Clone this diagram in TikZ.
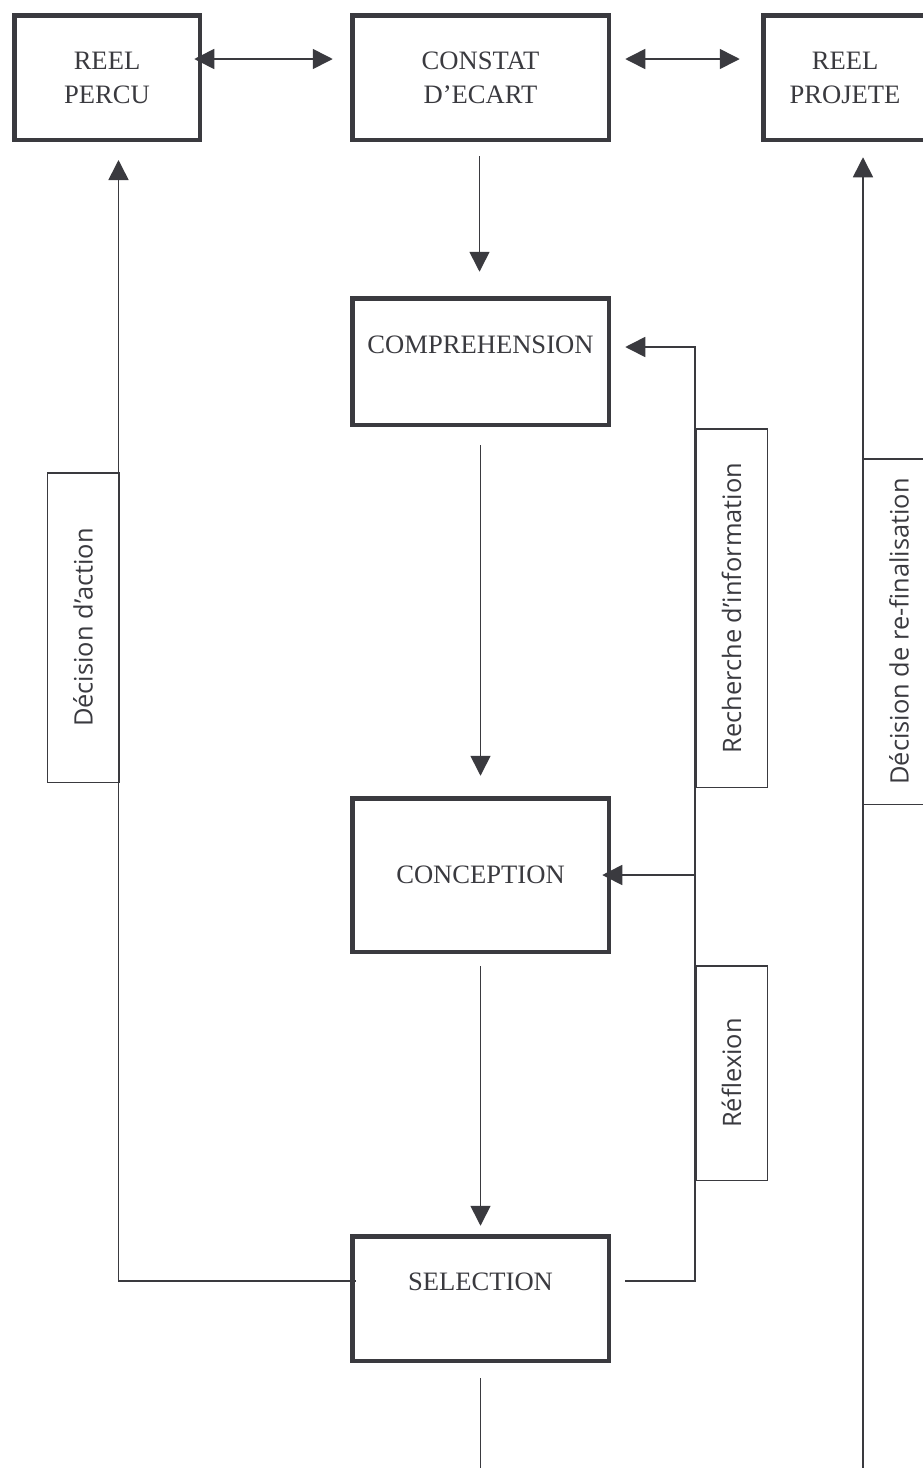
\documentclass[tikz,border=0pt]{standalone}
\usepackage{fontspec}
\setmainfont{Liberation Serif}
\newfontfamily\etiqfont{Open Sans}
\usetikzlibrary{arrows.meta}
\definecolor{trait}{RGB}{58,58,63}

\begin{document}
\begin{tikzpicture}[x=0.5pt, y=-0.5pt, >={Triangle[length=10pt,width=10pt]},
    etape/.style={draw=trait, line width=2.25pt, minimum width=128.25pt, minimum height=62.25pt, inner sep=0pt, align=center, text=trait, font=\fontsize{13.3}{17}\selectfont},
    etiquette/.style={draw=trait, line width=0.75pt, rotate=90, minimum height=35.75pt, inner sep=0pt, text=trait, font=\etiqfont\fontsize{12.7}{15}\selectfont},
    lien/.style={draw=trait, line width=0.8pt}]
    \useasboundingbox (0,0) rectangle (922,1468);
    % Ligne du haut
    \node[etape, minimum width=92.75pt] (percu) at (107,77.5) {REEL\\PERCU};
    \node[etape] (constat) at (480.5,77.5) {CONSTAT\\D’ECART};
    \node[etape, minimum width=81.75pt] (projete) at (845,77.5) {REEL\\PROJETE};
    \draw[lien, <->] ([shift={(-7.75,-18.5)}]percu.east) -- ([shift={(-17.25,-18.5)}]constat.west);
    \draw[lien, <->] ([shift={(14.25,-18.5)}]constat.east) -- ([shift={(-21.25,-18.5)}]projete.west);
    % Colonne centrale
    \node[etape, minimum height=63.25pt] (comp) at (480.5,361.5) {COMPREHENSION\\~};
    \node[etape, minimum height=76.75pt] (conc) at (480.5,875) {CONCEPTION};
    \node[etape] (sel) at (480.5,1298.5) {SELECTION\\~};
    \coordinate (finSel) at (480.5,1468);
    \draw[lien, ->] ([shift={(-1,14)}]constat.south) -- ([shift={(-1,-24.25)}]comp.north);
    \draw[lien, ->] ([shift={(0,18.25)}]comp.south) -- ([shift={(0,-20.25)}]conc.north);
    \draw[lien, ->] ([shift={(0,12.25)}]conc.south) -- ([shift={(0,-8.25)}]sel.north);
    \draw[lien] ([shift={(0,15.25)}]sel.south) -- (finSel);
    % Boucle gauche
    \draw[lien, ->] ([shift={(6,-17.5)}]sel.west) -| ([shift={(11.5,18)}]percu.south);
    \node[etiquette, minimum width=154.75pt] (decAction) at (83,627.5) {Décision d’action};
    % Boucle droite
    \coordinate (retour) at (695,347);
    \draw[lien, ->] ([shift={(14.25,-17.5)}]sel.east) -| (retour) -- ([shift={(14.25,-14.5)}]comp.east);
    \draw[lien, ->] (retour |- conc.east) -- ([shift={(-8.75,0)}]conc.east);
    \node[etiquette, minimum width=179.25pt] (recherche) at (731.5,608) {Recherche d’information};
    \node[etiquette, minimum width=107.25pt] (reflexion) at (731.5,1073) {Réflexion};
    % Re-finalisation
    \coordinate (finDroite) at (863,1468);
    \draw[lien, ->] (finDroite) -- ([shift={(18,15.25)}]projete.south);
    \node[etiquette, minimum width=172.75pt] (refin) at (899,631.5) {Décision de re-finalisation};
\end{tikzpicture}
\end{document}
